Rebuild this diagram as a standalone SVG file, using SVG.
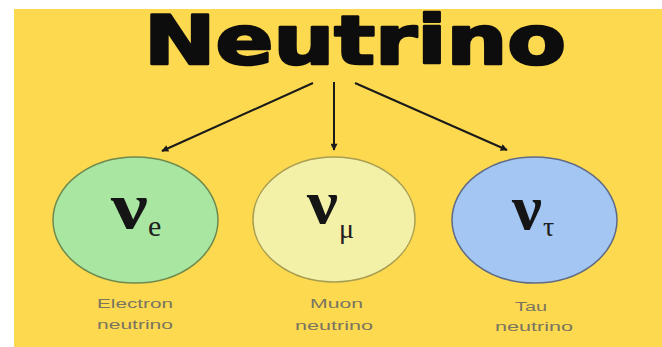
<svg xmlns="http://www.w3.org/2000/svg" width="662" height="347" viewBox="0 0 662 347">
<defs>
<marker id="ah" viewBox="0 0 10 10" refX="9" refY="5" markerWidth="8" markerHeight="7" orient="auto" markerUnits="userSpaceOnUse">
<path d="M0,0 L10,5 L0,10 z" fill="#1a1a1a"/>
</marker>
<style>
.title{font-family:"DejaVu Sans",sans-serif;font-weight:bold;font-size:67px;fill:#0d0d0d;stroke:#0d0d0d;stroke-width:2.5;stroke-linejoin:round}
.nu{font-family:"Liberation Serif",serif;font-weight:bold;fill:#151515}
.sub{font-family:"Liberation Serif",serif;fill:#202020}
.lbl{font-family:"Liberation Sans",sans-serif;font-size:12px;fill:#7a7460}
.arrow{stroke:#1a1a1a;stroke-width:2;fill:none;marker-end:url(#ah)}
</style>
</defs>
<rect x="0" y="0" width="662" height="347" fill="#ffffff"/>
<rect x="14" y="9" width="648" height="338" fill="#FCD94F"/>
<text class="title" x="144" y="64" textLength="422" lengthAdjust="spacingAndGlyphs">Neutrino</text>
<g id="connectors">
<line class="arrow" x1="313" y1="83" x2="162" y2="151"/>
<line class="arrow" x1="334" y1="82" x2="334" y2="150"/>
<line class="arrow" x1="355" y1="83" x2="507" y2="150"/>
</g>
<g id="electron">
<ellipse cx="135.5" cy="220" rx="82.5" ry="63" fill="#A8E6A2" stroke="#6E8A4E" stroke-width="1.5"/>
<text class="nu" x="111" y="228" font-size="66" textLength="37" lengthAdjust="spacingAndGlyphs">ν</text>
<text class="sub" x="148" y="236" font-size="30">e</text>
<text class="lbl" x="97" y="308" textLength="76" lengthAdjust="spacingAndGlyphs">Electron</text>
<text class="lbl" x="97" y="329" textLength="76" lengthAdjust="spacingAndGlyphs">neutrino</text>
</g>
<g id="muon">
<ellipse cx="334" cy="219.5" rx="81" ry="62.5" fill="#F3F0A8" stroke="#A89E52" stroke-width="1.5"/>
<text class="nu" x="307" y="223" font-size="62" textLength="31" lengthAdjust="spacingAndGlyphs">ν</text>
<text class="sub" x="339" y="238" font-size="28">μ</text>
<text class="lbl" x="310" y="308" textLength="53" lengthAdjust="spacingAndGlyphs">Muon</text>
<text class="lbl" x="295" y="330" textLength="78" lengthAdjust="spacingAndGlyphs">neutrino</text>
</g>
<g id="tau">
<ellipse cx="534.5" cy="220" rx="82.5" ry="63" fill="#A3C6F2" stroke="#5E6A86" stroke-width="1.5"/>
<text class="nu" x="512" y="229" font-size="64" textLength="30" lengthAdjust="spacingAndGlyphs">ν</text>
<text class="sub" x="543" y="236" font-size="28">τ</text>
<text class="lbl" x="515" y="311" textLength="32" lengthAdjust="spacingAndGlyphs">Tau</text>
<text class="lbl" x="495" y="331" textLength="78" lengthAdjust="spacingAndGlyphs">neutrino</text>
</g>
</svg>
